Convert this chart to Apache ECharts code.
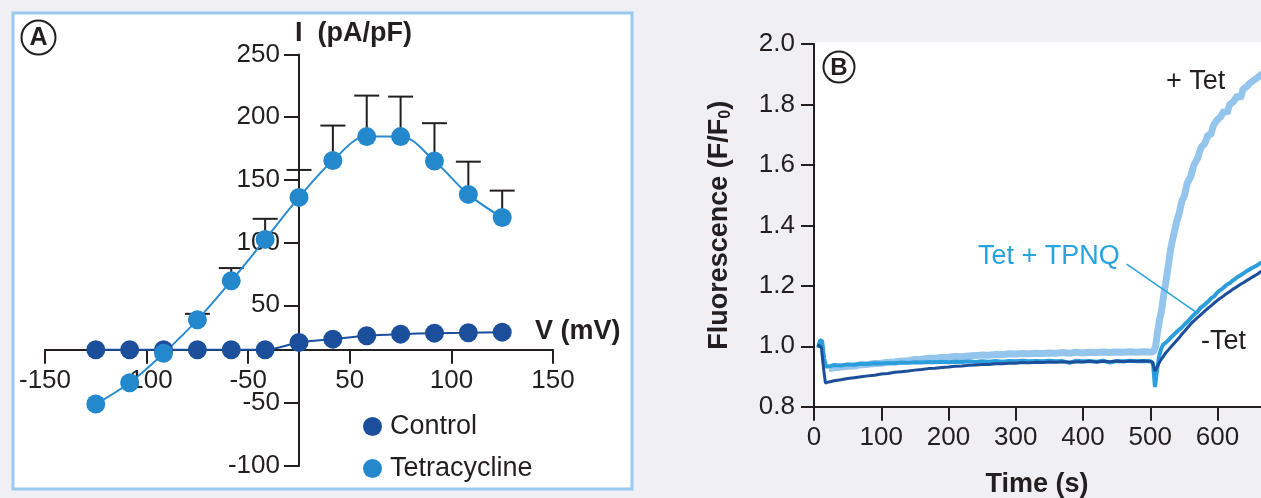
<!DOCTYPE html>
<html>
<head>
<meta charset="utf-8">
<script src="https://cdn.jsdelivr.net/npm/echarts@6/dist/echarts.min.js"></script>
<style>
  html, body { margin: 0; padding: 0; background: #efeff4; }
  #chart { width: 1261px; height: 498px; }
</style>
</head>
<body>
<div id="chart"></div>
<script>
// ---- panel A: I-V curve ----
const voltage = [-120, -100, -80, -60, -40, -20, 0, 20, 40, 60, 80, 100, 120];
const controlI = [0, 0, 0, 0, 0, 0, 5.8, 8.5, 11.2, 12.5, 13.3, 13.6, 14.1];
const tetI = [-43.3, -26.3, -2.8, 23.9, 55.0, 88.1, 121.6, 151.0, 170.1, 170.1, 150.7, 124.0, 105.5];
// upper end of the error bars (null = hidden under the marker)
const tetErrTop = [null, null, null, 28.7, 65.2, 104.5, 143.5, 178.9, 202.8, 202.0, 180.8, 150.1, 127.0];

// the figure's ticks are not evenly spaced, so ticks sit where they are drawn
const vTickValues = [-150, -90, -30, 30, 90, 150];
const vTickLabels = ['-150', '-100', '-50', '50', '100', '150'];
const iTickValues = [235.6, 185.6, 135.6, 85.6, 35.5, -42.0, -92.7];
const iTickLabels = ['250', '200', '150', '100', '50', '-50', '-100'];

// ---- panel B: fluorescence traces [time (s), F/F0] ----
const plusTet = [[22,0.925],[30,0.929],[40,0.931],[50,0.934],[60,0.935],[70,0.939],[80,0.940],[90,0.943],[100,0.944],[110,0.947],[120,0.948],[130,0.951],[140,0.952],[150,0.956],[160,0.957],[170,0.960],[180,0.960],[190,0.963],[200,0.964],[210,0.966],[220,0.965],[230,0.968],[240,0.969],[250,0.971],[260,0.970],[270,0.973],[280,0.972],[290,0.975],[300,0.974],[310,0.976],[320,0.975],[330,0.977],[340,0.976],[350,0.978],[360,0.977],[370,0.979],[380,0.977],[390,0.980],[400,0.978],[410,0.980],[420,0.979],[430,0.981],[440,0.979],[450,0.981],[460,0.980],[470,0.982],[480,0.980],[490,0.982],[500,0.981],[505,0.982],[508,1.0],[511,1.05],[514,1.09],[517,1.12],[520,1.17],[523,1.21],[527,1.27],[531,1.33],[535,1.37],[539,1.41],[543,1.44],[547,1.48],[551,1.50],[555,1.54],[560,1.56],[565,1.60],[570,1.62],[576,1.66],[581,1.67],[586,1.70],[590,1.70],[594,1.73],[600,1.75],[605,1.76],[610,1.78],[614,1.77],[618,1.80],[624,1.81],[630,1.83],[634,1.82],[638,1.85],[644,1.86],[648,1.87],[654,1.88],[660,1.89],[666,1.90],[672,1.91]];
const tetTpnq = [[6,0.995],[9,1.02],[12,1.018],[15,0.96],[18,0.932],[25,0.935],[30,0.938],[40,0.936],[50,0.940],[60,0.939],[70,0.942],[80,0.941],[90,0.944],[100,0.943],[110,0.945],[120,0.944],[130,0.946],[140,0.945],[150,0.947],[160,0.946],[170,0.948],[180,0.947],[190,0.949],[200,0.947],[210,0.949],[220,0.948],[230,0.950],[240,0.948],[250,0.950],[260,0.949],[270,0.951],[280,0.949],[290,0.951],[300,0.950],[310,0.952],[320,0.950],[330,0.951],[340,0.950],[350,0.952],[360,0.950],[370,0.951],[380,0.945],[390,0.952],[400,0.950],[410,0.951],[420,0.949],[430,0.952],[440,0.946],[450,0.951],[460,0.950],[470,0.952],[480,0.950],[490,0.951],[500,0.950],[504,0.945],[507,0.865],[510,0.92],[513,0.965],[516,0.99],[519,1.005],[523,1.012],[527,1.02],[531,1.03],[535,1.038],[539,1.047],[543,1.055],[547,1.062],[551,1.072],[555,1.08],[559,1.09],[563,1.10],[567,1.108],[571,1.116],[575,1.128],[579,1.134],[583,1.142],[587,1.150],[591,1.160],[595,1.165],[599,1.176],[603,1.184],[607,1.19],[611,1.198],[615,1.205],[619,1.21],[623,1.218],[627,1.224],[631,1.231],[635,1.236],[639,1.242],[643,1.248],[647,1.253],[651,1.259],[655,1.263],[659,1.268],[663,1.274],[668,1.28]];
const minusTet = [[5,1.0],[8,1.003],[11,0.995],[14,0.93],[17,0.878],[22,0.882],[30,0.886],[40,0.889],[50,0.893],[60,0.896],[70,0.899],[80,0.902],[90,0.904],[100,0.908],[110,0.910],[120,0.914],[130,0.916],[140,0.918],[150,0.921],[160,0.923],[170,0.926],[180,0.927],[190,0.930],[200,0.931],[210,0.934],[220,0.935],[230,0.937],[240,0.938],[250,0.940],[260,0.940],[270,0.942],[280,0.942],[290,0.944],[300,0.944],[310,0.946],[320,0.945],[330,0.947],[340,0.946],[350,0.948],[360,0.947],[370,0.949],[380,0.947],[390,0.949],[400,0.948],[410,0.950],[420,0.948],[430,0.950],[440,0.949],[450,0.951],[460,0.949],[470,0.951],[480,0.950],[490,0.951],[500,0.950],[503,0.948],[507,0.918],[511,0.935],[515,0.952],[519,0.965],[523,0.978],[527,0.988],[531,0.998],[535,1.008],[539,1.018],[543,1.028],[547,1.04],[551,1.05],[555,1.06],[559,1.07],[563,1.08],[567,1.088],[571,1.096],[575,1.104],[579,1.112],[583,1.12],[587,1.128],[591,1.135],[595,1.143],[599,1.15],[603,1.157],[607,1.163],[611,1.17],[615,1.176],[619,1.182],[623,1.189],[627,1.194],[631,1.2],[635,1.206],[639,1.211],[643,1.217],[647,1.222],[651,1.228],[655,1.233],[659,1.238],[663,1.245],[668,1.252]];
// leader line from the "Tet + TPNQ" label to its trace
const tpnqPointer = [[465, 1.272], [568, 1.113]];

const ink = '#231f20';
const font = '"Liberation Sans", Arial, Helvetica, sans-serif';
const cDark = '#1b4f9c';
const cMid = '#2488cc';

// panel A plot box; the axes cross at V = 0 and I = 0 inside it
const gridA = { left: 45, width: 508, top: 54.5, height: 411.5 };
const vMin = -150, vMax = 150, iMin = -92.7, iMax = 235.6;
const yAxisShift = -gridA.width * (0 - vMin) / (vMax - vMin);
const xAxisShift = -gridA.height * (0 - iMin) / (iMax - iMin);

const chart = echarts.init(document.getElementById('chart'));

const errData = [];
voltage.forEach(function (v, i) {
  if (tetErrTop[i] != null) errData.push([v, tetErrTop[i], tetI[i]]);
});

const option = {
  backgroundColor: '#efeff4',
  textStyle: { fontFamily: font, color: ink },
  animation: false,
  graphic: [
    // panel A frame
    { type: 'rect', z: -10, shape: { x: 13, y: 13, width: 619, height: 476 },
      style: { fill: '#fff', stroke: '#99c9ee', lineWidth: 3 } },
    { type: 'circle', shape: { cx: 38.5, cy: 37.5, r: 17 }, style: { fill: '#fff', stroke: ink, lineWidth: 2 } },
    { type: 'text', x: 38.5, y: 38.5, style: { text: 'A', font: 'bold 25px ' + font, fill: ink, align: 'center', verticalAlign: 'middle' } },
    { type: 'text', x: 295, y: 34, style: { text: 'I  (pA/pF)', font: 'bold 27px ' + font, fill: ink, verticalAlign: 'middle' } },
    { type: 'text', x: 535, y: 332, style: { text: 'V (mV)', font: 'bold 27px ' + font, fill: ink, verticalAlign: 'middle' } },
    // panel B white plot field and labels
    { type: 'rect', z: -10, shape: { x: 815, y: 42, width: 446, height: 364 }, style: { fill: '#fff' } },
    { type: 'circle', z: 10, shape: { cx: 839, cy: 67, r: 15.5 }, style: { fill: '#fff', stroke: ink, lineWidth: 2 } },
    { type: 'text', z: 11, x: 839, y: 68, style: { text: 'B', font: 'bold 24px ' + font, fill: ink, align: 'center', verticalAlign: 'middle' } },
    { type: 'text', z: 11, x: 1166, y: 82, style: { text: '+ Tet', font: '27px ' + font, fill: ink, verticalAlign: 'middle' } },
    { type: 'text', z: 11, x: 978, y: 257, style: { text: 'Tet + TPNQ', font: '27px ' + font, fill: '#27a4dd', verticalAlign: 'middle' } },
    { type: 'text', z: 11, x: 1201, y: 342, style: { text: '-Tet', font: '27px ' + font, fill: ink, verticalAlign: 'middle' } },
    { type: 'text', x: 1037, y: 485, style: { text: 'Time (s)', font: 'bold 27px ' + font, fill: ink, align: 'center', verticalAlign: 'middle' } }
  ],
  legend: {
    data: ['Control', 'Tetracycline'],
    orient: 'vertical',
    left: 358,
    top: 408,
    icon: 'circle',
    itemWidth: 19,
    itemHeight: 19,
    itemGap: 15,
    selectedMode: false,
    textStyle: { fontSize: 27, color: ink, fontFamily: font, padding: [0, 0, 0, 3] }
  },
  grid: [
    { left: gridA.left, width: gridA.width, top: gridA.top, height: gridA.height, outerBoundsMode: 'none', containLabel: false },
    { left: 814, width: 538, top: 44, height: 362.7, outerBoundsMode: 'none', containLabel: false }
  ],
  xAxis: [
    {
      gridIndex: 0, type: 'value', min: vMin, max: vMax, position: 'bottom', offset: xAxisShift,
      axisLine: { onZero: false, lineStyle: { color: ink, width: 2 } },
      axisTick: { customValues: vTickValues, length: 14, lineStyle: { color: ink, width: 2 } },
      axisLabel: {
        customValues: vTickValues, margin: 18, fontSize: 26, color: ink, fontFamily: font,
        formatter: function (v) { return vTickLabels[vTickValues.indexOf(v)]; }
      },
      splitLine: { show: false }
    },
    {
      gridIndex: 1, type: 'value', min: 0, max: 800, interval: 100,
      axisLine: { lineStyle: { color: ink, width: 2 } },
      axisTick: { length: 14, lineStyle: { color: ink, width: 2 } },
      axisLabel: { margin: 18, fontSize: 26, color: ink, fontFamily: font },
      splitLine: { show: false }
    }
  ],
  yAxis: [
    {
      gridIndex: 0, type: 'value', min: iMin, max: iMax, position: 'left', offset: yAxisShift,
      axisLine: { onZero: false, lineStyle: { color: ink, width: 2 } },
      axisTick: { customValues: iTickValues, length: 15, lineStyle: { color: ink, width: 2 } },
      axisLabel: {
        customValues: iTickValues, margin: 19, fontSize: 26, color: ink, fontFamily: font,
        formatter: function (v) { return iTickLabels[iTickValues.indexOf(v)]; }
      },
      splitLine: { show: false }
    },
    {
      gridIndex: 1, type: 'value', min: 0.8, max: 2.0, interval: 0.2,
      name: '{t|Fluorescence (F/F}{s|0}{t|)}',
      nameLocation: 'middle', nameGap: 80,
      nameTextStyle: {
        rich: {
          t: { fontSize: 27, fontWeight: 'bold', color: ink, fontFamily: font },
          s: { fontSize: 16, fontWeight: 'bold', color: ink, fontFamily: font, verticalAlign: 'bottom', padding: [12, 0, 0, 0] }
        }
      },
      axisLine: { lineStyle: { color: ink, width: 2 } },
      axisTick: { length: 13, lineStyle: { color: ink, width: 2 } },
      axisLabel: { margin: 19, fontSize: 26, color: ink, fontFamily: font, formatter: function (v) { return v.toFixed(1); } },
      splitLine: { show: false }
    }
  ],
  series: [
    {
      type: 'custom', xAxisIndex: 0, yAxisIndex: 0, data: errData, silent: true,
      renderItem: function (params, api) {
        const top = api.coord([api.value(0), api.value(1)]);
        const base = api.coord([api.value(0), api.value(2)]);
        const st = { stroke: ink, lineWidth: 2 };
        return {
          type: 'group',
          children: [
            { type: 'line', shape: { x1: top[0], y1: base[1], x2: top[0], y2: top[1] }, style: st },
            { type: 'line', shape: { x1: top[0] - 12.5, y1: top[1], x2: top[0] + 12.5, y2: top[1] }, style: st }
          ]
        };
      }
    },
    {
      name: 'Control', type: 'line', xAxisIndex: 0, yAxisIndex: 0,
      data: voltage.map(function (v, i) { return [v, controlI[i]]; }),
      symbol: 'circle', symbolSize: 19, smooth: 0.3,
      itemStyle: { color: cDark }, lineStyle: { color: cDark, width: 2 }
    },
    {
      name: 'Tetracycline', type: 'line', xAxisIndex: 0, yAxisIndex: 0,
      data: voltage.map(function (v, i) { return [v, tetI[i]]; }),
      symbol: 'circle', symbolSize: 19, smooth: 0.35,
      itemStyle: { color: cMid }, lineStyle: { color: '#2a8bd0', width: 2 }
    },
    {
      name: '+ Tet', type: 'line', xAxisIndex: 1, yAxisIndex: 1, data: plusTet,
      showSymbol: false, lineStyle: { color: '#94c5ec', width: 7 }
    },
    {
      name: 'Tet + TPNQ', type: 'line', xAxisIndex: 1, yAxisIndex: 1, data: tetTpnq,
      showSymbol: false, lineStyle: { color: '#2b9edb', width: 4 },
      markLine: {
        silent: true, symbol: 'none', label: { show: false },
        lineStyle: { color: '#27a4dd', width: 1.5, type: 'solid' },
        data: [[{ coord: tpnqPointer[0] }, { coord: tpnqPointer[1] }]]
      }
    },
    {
      name: '-Tet', type: 'line', xAxisIndex: 1, yAxisIndex: 1, data: minusTet,
      showSymbol: false, lineStyle: { color: '#1d4e9a', width: 3 }
    }
  ]
};

chart.setOption(option);
</script>
</body>
</html>
